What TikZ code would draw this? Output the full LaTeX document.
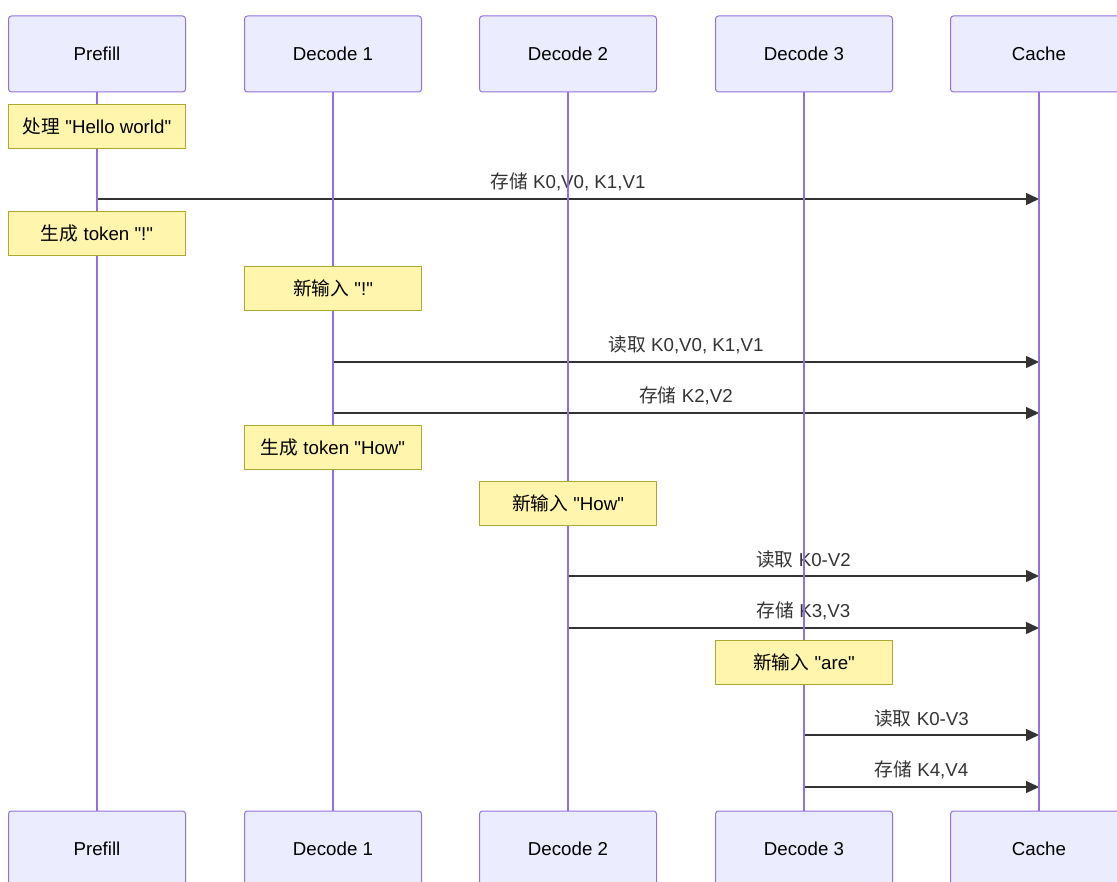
\documentclass[tikz,border=0pt]{standalone}
\usepackage{fontspec}
\setmainfont{Liberation Sans}
\newfontfamily\cjk{Noto Sans CJK SC}
\usetikzlibrary{arrows.meta,positioning}
\definecolor{actfill}{HTML}{ECECFF}
\definecolor{actline}{HTML}{9370DB}
\definecolor{notefill}{HTML}{FFF5AD}
\definecolor{noteline}{HTML}{AAAA33}
\definecolor{msgline}{HTML}{333333}

\begin{document}
\begin{tikzpicture}[
    x=1pt,
    y=-1pt,
    font=\fontsize{18.7}{22}\selectfont,
    actor/.style={
        draw=actline,
        fill=actfill,
        rounded corners=3pt,
        line width=1pt,
        minimum width=177pt,
        minimum height=76pt
    },
    life/.style={
        actline,
        line width=1.8pt
    },
    note/.style={
        draw=noteline,
        fill=notefill,
        line width=0.8pt,
        minimum width=177pt,
        minimum height=44pt
    },
    msg/.style={
        -{Triangle[length=13pt,width=12pt]},
        msgline,
        line width=1.5pt
    },
    lbl/.style={
        above=7pt,
        inner sep=0pt,
        text=msgline
    }
]

\useasboundingbox (0,0) rectangle (1117,882);

% Participants, top and bottom rows
\foreach \n/\t/\x in {pre/Prefill/97, dec1/Decode 1/333, dec2/Decode 2/568,
                      dec3/Decode 3/804, cache/Cache/1039}
{
    \node[actor] (\n-top) at (\x,54) {\t};
    \node[actor] (\n-bot) at (\x,849) {\t};
}

% Messages to the cache
\draw[msg] (pre-top |- 0,199) --
    node[lbl] {{\cjk 存储} K0,V0, K1,V1}
    (cache-top |- 0,199);

\draw[msg] (dec1-top |- 0,362) --
    node[lbl] {{\cjk 读取} K0,V0, K1,V1}
    (cache-top |- 0,362);

\draw[msg] (dec1-top |- 0,413) --
    node[lbl] {{\cjk 存储} K2,V2}
    (cache-top |- 0,413);

\draw[msg] (dec2-top |- 0,576) --
    node[lbl] {{\cjk 读取} K0-V2}
    (cache-top |- 0,576);

\draw[msg] (dec2-top |- 0,628) --
    node[lbl] {{\cjk 存储} K3,V3}
    (cache-top |- 0,628);

\draw[msg] (dec3-top |- 0,735) --
    node[lbl] {{\cjk 读取} K0-V3}
    (cache-top |- 0,735);

\draw[msg] (dec3-top |- 0,787) --
    node[lbl] {{\cjk 存储} K4,V4}
    (cache-top |- 0,787);

% Lifelines
\foreach \n in {pre, dec1, dec2, dec3, cache}
    \draw[life] (\n-top) -- (\n-bot);

% Notes over the lifelines
\node[note] (n1) at (97,126)  {{\cjk 处理} \textquotedbl Hello world\textquotedbl};
\node[note] (n2) at (97,233)  {{\cjk 生成} token \textquotedbl!\textquotedbl};
\node[note] (n3) at (333,288) {{\cjk 新输入} \textquotedbl!\textquotedbl};
\node[note] (n4) at (333,447) {{\cjk 生成} token \textquotedbl How\textquotedbl};
\node[note] (n5) at (568,503) {{\cjk 新输入} \textquotedbl How\textquotedbl};
\node[note] (n6) at (804,662) {{\cjk 新输入} \textquotedbl are\textquotedbl};
\end{tikzpicture}
\end{document}
